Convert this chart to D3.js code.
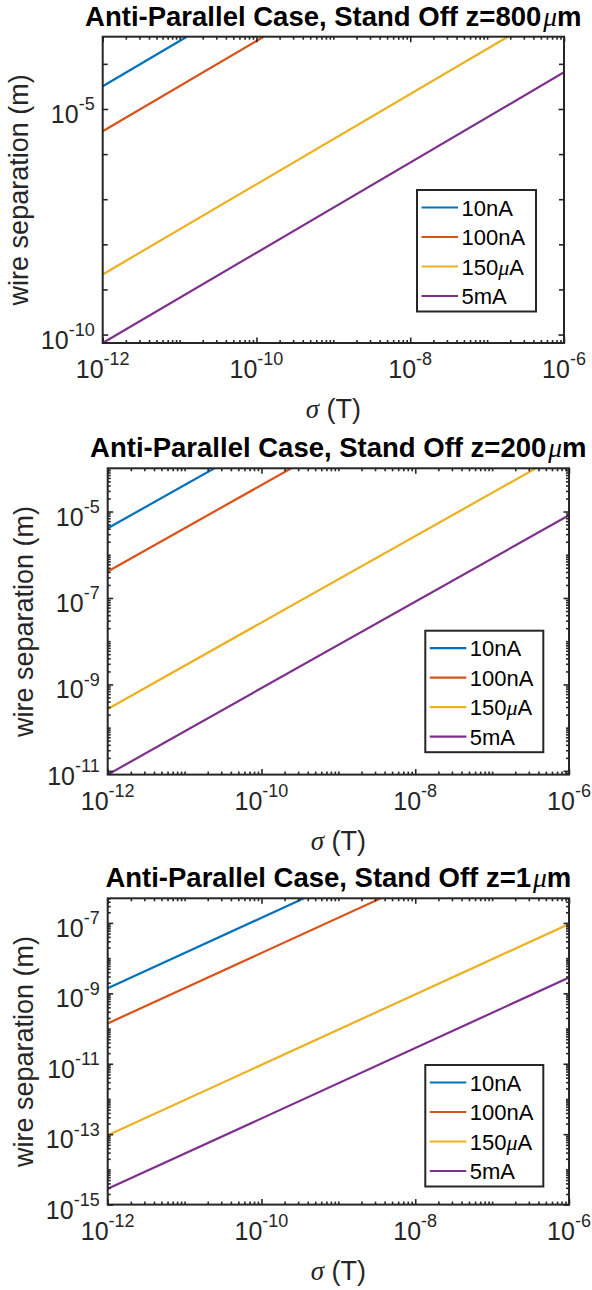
<!DOCTYPE html>
<html lang="en">
<head>
<meta charset="UTF-8" />
<title>Anti-Parallel Case</title>
<script src="https://d3js.org/d3.v7.min.js"></script>
<style>
  body { margin: 0; background: #fff; overflow: hidden; }
  svg { display: block; font-family: "Liberation Sans", Arial, sans-serif; }
  .greek { font-family: "Liberation Serif", "DejaVu Serif", serif; font-style: italic; font-weight: normal; }
</style>
</head>
<body>
<svg width="592" height="1290"></svg>
<script>
  const currents = ["10nA", "100nA", "150µA", "5mA"];
  const standOffs = ["800", "200", "1"];
  const xDomain = [1e-12, 1e-6];
  const xTicks = [1e-12, 1e-10, 1e-8, 1e-6];

  // z = 800 um : sigma (T) and wire separation (m) at start / end of each line
  const sigma800 = [[1e-12, 1.24e-11], [1e-12, 1.24e-10], [1e-12, 1.86e-7], [1e-12, 1e-6]];
  const sep800   = [[3.2e-5, 4e-4], [3.2e-6, 4e-4], [2.15e-9, 4e-4], [6.5e-11, 6.5e-5]];
  const yDomain800 = [6.5e-11, 4e-4];
  const yTicks800 = [1e-10, 1e-5];

  // z = 200 um
  const sigma200 = [[1e-12, 2.44e-11], [1e-12, 2.44e-10], [1e-12, 3.7e-7], [1e-12, 1e-6]];
  const sep200   = [[4.1e-6, 1e-4], [4.1e-7, 1e-4], [2.7e-10, 1e-4], [8.2e-12, 8.2e-6]];
  const yDomain200 = [8.2e-12, 1e-4];
  const yTicks200 = [1e-11, 1e-9, 1e-7, 1e-5];

  // z = 1 um
  const sigma1 = [[1e-12, 3.57e-10], [1e-12, 3.57e-9], [1e-12, 1e-6], [1e-12, 1e-6]];
  const sep1   = [[1.4e-9, 5e-7], [1.4e-10, 5e-7], [9.3e-14, 9.3e-8], [2.8e-15, 2.8e-9]];
  const yDomain1 = [1e-15, 5e-7];
  const yTicks1 = [1e-15, 1e-13, 1e-11, 1e-9, 1e-7];

  const colors = ["#0072BD", "#D95319", "#EDB120", "#7E2F8E"];
  const axisColor = "#262626";

  const W = 461.3, H = 306.3;
  const panels = [
    { left: 102.7, top: 36.7, sigma: sigma800, sep: sep800, yDomain: yDomain800, yTicks: yTicks800, yMinorAll: false, leg: [314.3, 153.3, 119] },
    { left: 107.7, top: 468.3, sigma: sigma200, sep: sep200, yDomain: yDomain200, yTicks: yTicks200, yMinorAll: true, leg: [317.6, 162.4, 118] },
    { left: 107.7, top: 898.3, sigma: sigma1, sep: sep1, yDomain: yDomain1, yTicks: yTicks1, yMinorAll: true, leg: [317.6, 166.7, 118] }
  ];

  const svg = d3.select("svg");

  function minorTicks(domain, majors, all) {
    const out = [];
    const e0 = Math.floor(Math.log10(domain[0])), e1 = Math.ceil(Math.log10(domain[1]));
    for (let e = e0; e <= e1; e++) {
      for (let k = 1; k <= (all ? 9 : 1); k++) {
        const v = k * Math.pow(10, e);
        if (v < domain[0] * 0.999 || v > domain[1] * 1.001) continue;
        if (majors.some(m => Math.abs(m - v) / m < 1e-6)) continue;
        out.push(v);
      }
    }
    return out;
  }

  function powLabel(t) {
    t.append("tspan").text("10");
    t.append("tspan").attr("dy", -12.5).attr("font-size", 18)
      .text(d => String(Math.round(Math.log10(d))));
  }

  function muText(t, before, after) {
    t.append("tspan").text(before);
    t.append("tspan").attr("class", "greek").attr("dx", 2).text("μ");
    t.append("tspan").text(after);
  }

  function tickSet(g, makeAxis, tr, vals, len) {
    const a = g.append("g").attr("color", axisColor)
      .call(makeAxis().tickValues(vals).tickSizeInner(-len).tickSizeOuter(0).tickFormat(""));
    if (tr) a.attr("transform", tr);
    a.select(".domain").remove();
    a.selectAll("line").attr("stroke-width", 1.6);
  }

  panels.forEach((p, k) => {
    const g = svg.append("g").attr("transform", `translate(${p.left},${p.top})`);
    const x = d3.scaleLog().domain(xDomain).range([0, W]);
    const y = d3.scaleLog().domain(p.yDomain).range([H, 0]);

    g.append("clipPath").attr("id", "clip" + k)
      .append("rect").attr("width", W).attr("height", H);

    // lines
    const line = d3.line().x(d => x(d[0])).y(d => y(d[1]));
    g.append("g").attr("clip-path", `url(#clip${k})`)
      .selectAll("path")
      .data(p.sigma.map((s, i) => s.map((v, j) => [v, p.sep[i][j]])))
      .join("path")
      .attr("d", line)
      .attr("fill", "none")
      .attr("stroke", (d, i) => colors[i])
      .attr("stroke-width", 2.2);

    // ticks (inward, mirrored on top and right)
    const xMinor = minorTicks(xDomain, xTicks, true);
    const yMinor = minorTicks(p.yDomain, p.yTicks, p.yMinorAll);
    const yMinorLen = p.yMinorAll ? 3 : 5;
    tickSet(g, () => d3.axisBottom(x), `translate(0,${H})`, xTicks, 5.5);
    tickSet(g, () => d3.axisBottom(x), `translate(0,${H})`, xMinor, 3);
    tickSet(g, () => d3.axisTop(x), null, xTicks, 5.5);
    tickSet(g, () => d3.axisTop(x), null, xMinor, 3);
    tickSet(g, () => d3.axisLeft(y), null, p.yTicks, 5.5);
    tickSet(g, () => d3.axisLeft(y), null, yMinor, yMinorLen);
    tickSet(g, () => d3.axisRight(y), `translate(${W},0)`, p.yTicks, 5.5);
    tickSet(g, () => d3.axisRight(y), `translate(${W},0)`, yMinor, yMinorLen);

    g.append("rect").attr("width", W).attr("height", H)
      .attr("fill", "none").attr("stroke", axisColor).attr("stroke-width", 2);

    // tick labels
    g.append("g").selectAll("text").data(xTicks).join("text")
      .attr("x", d => x(d)).attr("y", H + 35)
      .attr("text-anchor", "middle").attr("font-size", 25).attr("fill", axisColor)
      .call(powLabel);
    g.append("g").selectAll("text").data(p.yTicks).join("text")
      .attr("x", -8).attr("y", d => y(d) + 14)
      .attr("text-anchor", "end").attr("font-size", 25).attr("fill", axisColor)
      .call(powLabel);

    // title
    g.append("text").attr("x", W / 2).attr("y", -11)
      .attr("text-anchor", "middle").attr("font-size", 27.5).attr("font-weight", "bold")
      .attr("fill", "#000")
      .call(muText, "Anti-Parallel Case, Stand Off z=" + standOffs[k], "m");

    // axis labels
    g.append("text")
      .attr("transform", `translate(-75,${H / 2}) rotate(-90)`)
      .attr("text-anchor", "middle").attr("font-size", 27).attr("fill", axisColor)
      .text("wire separation (m)");
    const xl = g.append("text").attr("x", W / 2).attr("y", H + 75)
      .attr("text-anchor", "middle").attr("font-size", 27).attr("fill", axisColor);
    xl.append("tspan").attr("class", "greek").text("σ");
    xl.append("tspan").text(" (T)");

    // legend
    const [lx, ly, lw] = p.leg;
    const lg = g.append("g").attr("transform", `translate(${lx},${ly})`);
    lg.append("rect").attr("width", lw).attr("height", 121.5)
      .attr("fill", "#fff").attr("stroke", axisColor).attr("stroke-width", 2);
    currents.forEach((c, i) => {
      const cy = 17.5 + i * 29.5;
      lg.append("line").attr("x1", 4.5).attr("x2", 41).attr("y1", cy).attr("y2", cy)
        .attr("stroke", colors[i]).attr("stroke-width", 2.2);
      const t = lg.append("text").attr("x", 44.5).attr("y", cy + 8)
        .attr("font-size", 22).attr("fill", "#000");
      if (c.includes("µ")) {
        const parts = c.split("µ");
        t.append("tspan").text(parts[0]);
        t.append("tspan").attr("class", "greek").text("μ");
        t.append("tspan").text(parts[1]);
      } else {
        t.text(c);
      }
    });
  });
</script>
</body>
</html>
